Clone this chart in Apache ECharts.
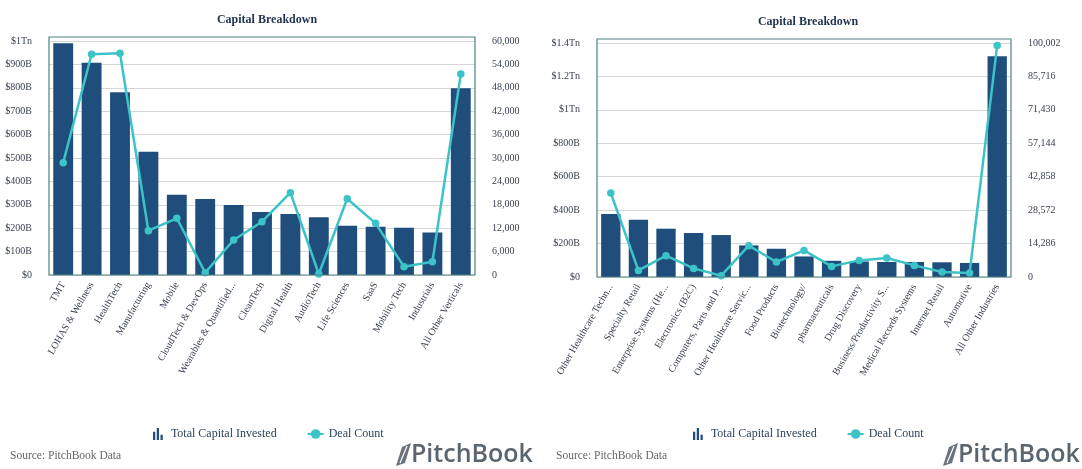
<!DOCTYPE html>
<html>
<head>
<meta charset="utf-8">
<script src="https://cdn.jsdelivr.net/npm/echarts/dist/echarts.min.js"></script>
<style>
  html, body { margin: 0; padding: 0; background: #fff; }
  #chart { width: 1082px; height: 469px; }
</style>
</head>
<body>
<div id="chart"></div>
<script>
// left panel: verticals
const leftCategories = ['TMT', 'LOHAS & Wellness', 'HealthTech', 'Manufacturing', 'Mobile',
  'CloudTech & DevOps', 'Wearables & Quantified...', 'CleanTech', 'Digital Health', 'AudioTech',
  'Life Sciences', 'SaaS', 'Mobility Tech', 'Industrials', 'All Other Verticals'];
const leftCapital = [990, 907, 781, 527, 343, 325, 299, 269, 261, 247, 211, 206, 202, 182, 798]; // $B
const leftDeals = [28800, 56600, 56850, 11360, 14540, 600, 8970, 13670, 21100, 250, 19560, 13250, 2130, 3410, 51540];

// right panel: industries
const rightCategories = ['Other Healthcare Techn...', 'Specialty Retail', 'Enterprise Systems (He...',
  'Electronics (B2C)', 'Computers, Parts and P...', 'Other Healthcare Servic...', 'Food Products',
  'Biotechnology/', 'pharmaceuticals', 'Drug Discovery', 'Business/Productivity S...',
  'Medical Records Systems', 'Internet Retail', 'Automotive', 'All Other Industries'];
const rightCapital = [377, 343, 289, 263, 251, 189, 169, 123, 97, 93, 90, 90, 88, 84, 1320]; // $B
const rightDeals = [35900, 2820, 9100, 3680, 560, 13380, 6410, 11370, 4530, 7100, 8120, 4960, 2140, 1710, 98980];

const serif = 'Liberation Serif';
const barColor = '#1f4e7c';
const lineColor = '#3cc3c8';
const frameColor = '#4f8080';
const labelColor = '#3a4150';

const fmtMoney = v => v === 0 ? '$0' : (v >= 1000 ? '$' + (v / 1000) + 'Tn' : '$' + v + 'B');
const fmtCount = v => Math.round(v).toLocaleString('en-US');

const grids = [
  { left: 49, top: 41, width: 426, height: 234 },
  { left: 597, top: 43, width: 414, height: 234 }
];

function xAxis(i, cats) {
  return {
    type: 'category', gridIndex: i, data: cats,
    axisLine: { show: false }, axisTick: { show: false },
    axisLabel: { interval: 0, rotate: 60, fontFamily: serif, fontSize: 10, color: labelColor, margin: 8 }
  };
}
function moneyAxis(i, max, interval) {
  return {
    type: 'value', gridIndex: i, min: 0, max: max, interval: interval, position: 'left',
    axisLine: { show: false }, axisTick: { show: false },
    axisLabel: { formatter: fmtMoney, fontFamily: serif, fontSize: 10, color: labelColor, margin: 17 },
    splitLine: { lineStyle: { color: '#d6d6d6', width: 1 } }
  };
}
function countAxis(i, max, interval) {
  return {
    type: 'value', gridIndex: i, min: 0, max: max, interval: interval, position: 'right',
    axisLine: { show: false }, axisTick: { show: false },
    axisLabel: { formatter: fmtCount, fontFamily: serif, fontSize: 10, color: labelColor, margin: 17 },
    splitLine: { show: false }
  };
}
function barSeries(i, data) {
  return {
    name: 'Total Capital Invested', type: 'bar', xAxisIndex: i, yAxisIndex: i * 2,
    data: data, barWidth: '70%', itemStyle: { color: barColor }, z: 2
  };
}
function lineSeries(i, data) {
  return {
    name: 'Deal Count', type: 'line', xAxisIndex: i, yAxisIndex: i * 2 + 1,
    data: data, symbol: 'circle', symbolSize: 7.5,
    lineStyle: { color: lineColor, width: 2.5 }, itemStyle: { color: lineColor }, z: 3
  };
}

const barIcon = 'path://M0,5h3v11h-3z M5,0h3v16h-3z M10,9h3v7h-3z';
function legend(left) {
  return {
    left: left, top: 423, itemGap: 30, itemWidth: 16, itemHeight: 12,
    textStyle: { fontFamily: serif, fontSize: 12, color: '#2e4258' },
    data: [{ name: 'Total Capital Invested', icon: barIcon, itemStyle: { color: barColor } }, { name: 'Deal Count' }]
  };
}

function logo(x) {
  return [
    { type: 'polygon', shape: { points: [[x, 466], [x + 6, 447], [x + 15, 443], [x + 9, 463]] }, style: { fill: '#6a737c' } },
    { type: 'line', shape: { x1: x + 4, y1: 463, x2: x + 11, y2: 446 }, style: { stroke: '#fff', lineWidth: 1.2 } },
    { type: 'text', x: x + 15, y: 455, style: { text: 'PitchBook', font: '600 25px "Open Sans"', fill: '#5b6570', textVerticalAlign: 'middle' } }
  ];
}

const chart = echarts.init(document.getElementById('chart'), null, { renderer: 'canvas' });
chart.setOption({
  animation: false,
  title: [
    { text: 'Capital Breakdown', left: 262, top: 9, textAlign: 'center',
      textStyle: { fontFamily: serif, fontSize: 12, fontWeight: 'bold', color: '#1f3350' } },
    { text: 'Capital Breakdown', left: 803, top: 11, textAlign: 'center',
      textStyle: { fontFamily: serif, fontSize: 12, fontWeight: 'bold', color: '#1f3350' } }
  ],
  grid: grids,
  xAxis: [xAxis(0, leftCategories), xAxis(1, rightCategories)],
  yAxis: [moneyAxis(0, 1000, 100), countAxis(0, 60000, 6000), moneyAxis(1, 1400, 200), countAxis(1, 100002, 14286)],
  legend: [legend(148), legend(688)],
  series: [barSeries(0, leftCapital), lineSeries(0, leftDeals), barSeries(1, rightCapital), lineSeries(1, rightDeals)],
  graphic: [
    { type: 'rect', shape: { x: 49, y: 37, width: 426, height: 238 }, style: { fill: 'none', stroke: frameColor, lineWidth: 1.2 }, z: 10 },
    { type: 'rect', shape: { x: 597, y: 39, width: 414, height: 238 }, style: { fill: 'none', stroke: frameColor, lineWidth: 1.2 }, z: 10 },
    { type: 'text', x: 10, y: 456, style: { text: 'Source: PitchBook Data', font: '11.5px "Liberation Serif"', fill: '#666', textVerticalAlign: 'middle' } },
    { type: 'text', x: 556, y: 456, style: { text: 'Source: PitchBook Data', font: '11.5px "Liberation Serif"', fill: '#666', textVerticalAlign: 'middle' } }
  ].concat(logo(396), logo(943))
});
window.onresize = () => chart.resize();
</script>
</body>
</html>
